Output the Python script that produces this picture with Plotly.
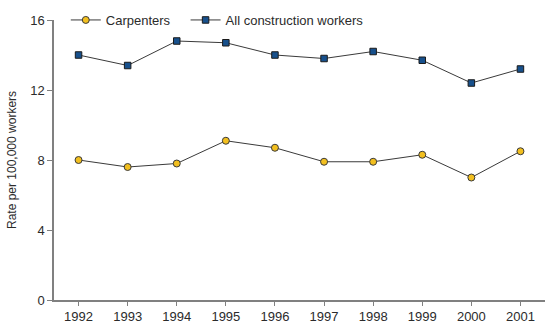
import plotly.graph_objects as go

years = [1992, 1993, 1994, 1995, 1996, 1997, 1998, 1999, 2000, 2001]
carpenters = [8.0, 7.6, 7.8, 9.1, 8.7, 7.9, 7.9, 8.3, 7.0, 8.5]
all_construction = [14.0, 13.4, 14.8, 14.7, 14.0, 13.8, 14.2, 13.7, 12.4, 13.2]
y_ticks = [0, 4, 8, 12, 16]

line_col = "#3a3a3a"
axis_col = "#808080"
text_col = "#2b2b2b"

fig = go.Figure()
fig.add_trace(go.Scatter(
    x=years, y=carpenters, name="Carpenters", mode="lines+markers",
    line=dict(color=line_col, width=1),
    marker=dict(symbol="circle", size=7, color="#F2BF1F",
                line=dict(color="#3a3a3a", width=1)),
    legend="legend",
))
fig.add_trace(go.Scatter(
    x=years, y=all_construction, name="All construction workers",
    mode="lines+markers",
    line=dict(color=line_col, width=1),
    marker=dict(symbol="square", size=6.5, color="#17508C",
                line=dict(color="#1a1a1a", width=1)),
    legend="legend2",
))

legend_common = dict(orientation="h", y=1.0, xanchor="left", yanchor="middle",
                     bgcolor="rgba(0,0,0,0)", font=dict(size=13, color=text_col),
                     itemwidth=30)

fig.update_layout(
    width=550, height=329,
    margin=dict(l=54, r=5, t=13, b=26),
    paper_bgcolor="white", plot_bgcolor="white",
    font=dict(family="Liberation Sans, Arial, sans-serif", size=12, color=text_col),
    showlegend=True,
    legend=dict(x=0.024, **legend_common),
    legend2=dict(x=0.268, **legend_common),
    xaxis=dict(range=[1991.5, 2001.5], tickvals=years,
               ticktext=[str(y) for y in years],
               showgrid=False, zeroline=False,
               showline=True, linecolor=axis_col, linewidth=1.5,
               ticks="outside", ticklen=4, tickcolor=axis_col, tickwidth=1,
               tickfont=dict(size=13, color=text_col)),
    yaxis=dict(range=[0, 16], tickvals=y_ticks,
               showgrid=False, zeroline=False,
               showline=True, linecolor=axis_col, linewidth=1.5,
               ticks="outside", ticklen=5, tickcolor=axis_col, tickwidth=1,
               tickfont=dict(size=13, color=text_col),
               title=dict(text="Rate per 100,000 workers", standoff=11,
                          font=dict(size=12, color=text_col))),
)

fig.write_html("out.html")
